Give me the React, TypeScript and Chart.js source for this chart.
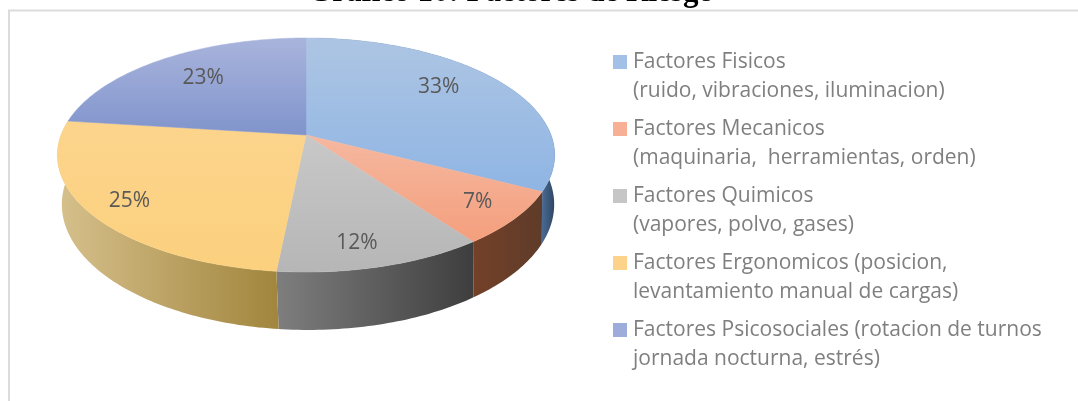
import React, { useEffect, useRef } from "react";
import { Chart, registerables } from "chart.js";

Chart.register(...registerables);

const categories: string[][] = [
  ["Factores Fisicos", "(ruido, vibraciones, iluminacion)"],
  ["Factores Mecanicos", "(maquinaria,  herramientas, orden)"],
  ["Factores Quimicos", "(vapores, polvo, gases)"],
  ["Factores Ergonomicos (posicion,", "levantamiento manual de cargas)"],
  ["Factores Psicosociales (rotacion de turnos", "jornada nocturna, estrés)"],
];
const values = [32.6, 7.4, 11.6, 25.4, 23];
const swatchColors = ["#a3c0e6", "#f7b096", "#c6c6c6", "#fdd28a", "#9dacdb"];
const topLight = ["#adc5e3", "#f5b8a0", "#c8c8c8", "#fcd48c", "#a9b4dc"];
const topDark = ["#8fb5e4", "#f49f7d", "#b6b6b6", "#fbd07e", "#8094cc"];
const sideLeft = ["#4a6a94", "#744028", "#7e7e7e", "#d6c08c", "#5a6a90"];
const sideRight = ["#2e4560", "#5e3c2a", "#3e3e3e", "#a2863e", "#5a6a90"];
const labelNudgeX = [-9, 13, 2, -27, 4];
const labelNudgeY = [-8, 4, 24, 11, -1];
const labelRadius = [0.72, 0.78, 0.68, 0.72, 0.72];
const titleText = "Gráfico 10: Factores de Riesgo";

const CX = 306;
const CY = 135;
const BX = 245;
const BY = 113.6;
const PERSP = 0.171;
const DEPTH = 48;
const BOTTOM_X = 0.99;
const BOTTOM_SHIFT = 2;

function project(a: number, r = 1) {
  const u = Math.cos(a) * r;
  const v = Math.sin(a) * r;
  const k = 1 / (1 - PERSP * v);
  return { x: CX + BX * u * k, y: CY + BY * v * k, k };
}

const pie3d = {
  id: "pie3d",
  beforeDatasetsDraw(chart: any) {
    const { ctx } = chart;
    const arcs = chart.getDatasetMeta(0).data;
    const STEP = Math.PI / 180;
    const samples = (s: number, e: number) => {
      const out: number[] = [];
      for (let a = s; a < e; a += STEP) out.push(a);
      out.push(e);
      return out;
    };
    ctx.save();
    // walls of the disc
    arcs.forEach((arc: any, i: number) => {
      const pts = samples(arc.startAngle, arc.endAngle);
      const front = pts.filter((a) => Math.sin(a) > -0.1).map((a) => project(a).x);
      if (!front.length) return;
      const g = ctx.createLinearGradient(Math.min(...front), 0, Math.max(...front), 0);
      g.addColorStop(0, sideLeft[i]);
      g.addColorStop(1, sideRight[i]);
      ctx.fillStyle = g;
      ctx.beginPath();
      pts.forEach((a, j) => {
        const p = project(a);
        if (j === 0) ctx.moveTo(p.x, p.y);
        else ctx.lineTo(p.x, p.y);
      });
      pts.slice().reverse().forEach((a) => {
        const p = project(a);
        ctx.lineTo(CX + BOTTOM_SHIFT + (p.x - CX) * BOTTOM_X, p.y + DEPTH * p.k);
      });
      ctx.closePath();
      ctx.fill();
    });
    // top face
    arcs.forEach((arc: any, i: number) => {
      const pts = samples(arc.startAngle, arc.endAngle).map((a) => project(a));
      const ys = pts.map((p) => p.y).concat(CY);
      const g = ctx.createLinearGradient(0, Math.min(...ys), 0, Math.max(...ys));
      g.addColorStop(0, topLight[i]);
      g.addColorStop(1, topDark[i]);
      ctx.fillStyle = g;
      ctx.strokeStyle = g;
      ctx.lineWidth = 0.5;
      ctx.beginPath();
      ctx.moveTo(CX, CY);
      pts.forEach((p) => ctx.lineTo(p.x, p.y));
      ctx.closePath();
      ctx.fill();
      ctx.stroke();
    });
    // percent labels
    const total = values.reduce((s, v) => s + v, 0);
    ctx.fillStyle = "#595959";
    ctx.font = "21px 'Open Sans'";
    ctx.textAlign = "center";
    ctx.textBaseline = "middle";
    arcs.forEach((arc: any, i: number) => {
      const p = project((arc.startAngle + arc.endAngle) / 2, labelRadius[i]);
      ctx.fillText(`${Math.round((values[i] / total) * 100)}%`, p.x + labelNudgeX[i], p.y + labelNudgeY[i]);
    });
    ctx.restore();
    return false;
  },
  beforeDraw(chart: any) {
    const { ctx, width, height } = chart;
    ctx.save();
    ctx.strokeStyle = "#dcdcdc";
    ctx.lineWidth = 2;
    ctx.beginPath();
    ctx.moveTo(9, height);
    ctx.lineTo(9, 10.5);
    ctx.lineTo(width, 10.5);
    ctx.stroke();
    ctx.restore();
  },
  afterLayout(chart: any) {
    const l = chart.legend;
    l.left = 609.5;
    l.right = 1078;
    l.top = 43.5;
    l.bottom = 401;
    const t = chart.titleBlock;
    t.left = -28;
    t.right = 1050;
  },
};

export default function App() {
  const ref = useRef<HTMLCanvasElement>(null);
  useEffect(() => {
    const chart = new Chart(ref.current!, {
      type: "pie",
      data: {
        labels: categories as any,
        datasets: [
          {
            data: values,
            backgroundColor: swatchColors,
            borderColor: swatchColors,
            borderWidth: 9,
          },
        ],
      },
      options: {
        responsive: false,
        animation: false,
        plugins: {
          tooltip: { enabled: false },
          title: {
            display: true,
            text: titleText,
            color: "#000000",
            font: { family: "'Liberation Serif'", size: 31, weight: "bold" },
            padding: { top: -26, bottom: 0 },
          },
          legend: {
            display: true,
            position: "right",
            align: "start",
            labels: {
              boxWidth: 5,
              boxHeight: 5,
              padding: 8,
              color: "#7f7f7f",
              font: { family: "'Open Sans'", size: 21, lineHeight: 29.5 / 21 },
            },
          },
        },
      },
      plugins: [pie3d],
    } as any);
    return () => chart.destroy();
  }, []);
  return (
    <div style={{ position: "fixed", left: 0, top: 0, width: 1078, height: 401, background: "#fff" }}>
      <canvas ref={ref} width={1078} height={401} style={{ display: "block" }} />
    </div>
  );
}
